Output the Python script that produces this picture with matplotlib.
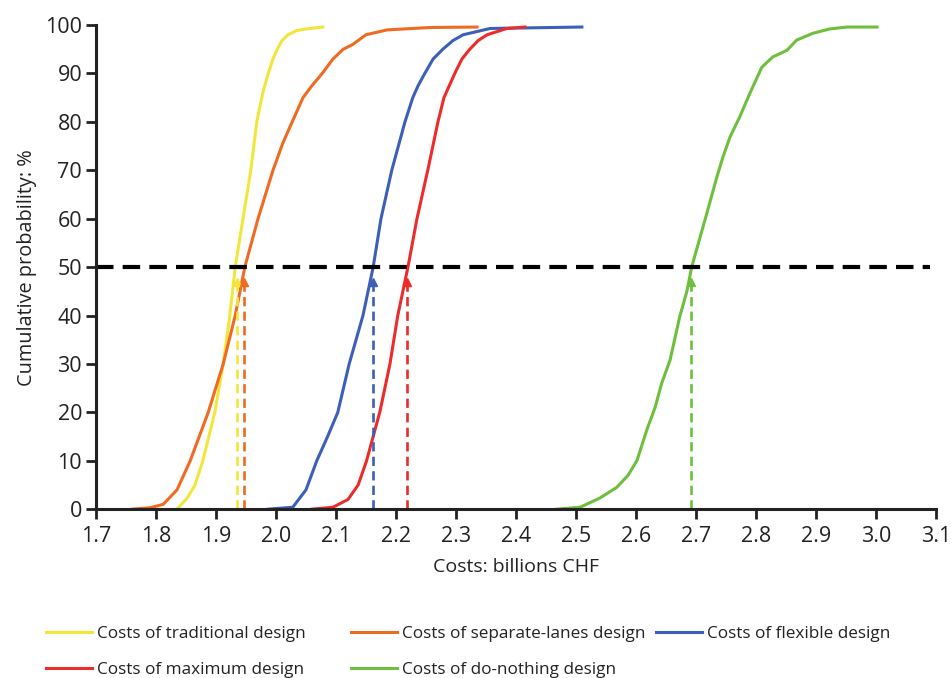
import matplotlib
matplotlib.use("Agg")
import matplotlib.pyplot as plt
import numpy as np

# ---- data ----
trad_x = [1.835, 1.852, 1.865, 1.878, 1.898, 1.912, 1.923, 1.932, 1.945, 1.958, 1.968, 1.978, 1.987, 1.995, 2.002, 2.01, 2.02, 2.035, 2.057, 2.078]
trad_y = [0, 2.3, 5, 10, 20, 30, 40, 50, 60, 70, 80, 86, 90, 93, 95, 96.8, 98, 98.9, 99.3, 99.6]

sep_x = [1.76, 1.79, 1.812, 1.835, 1.857, 1.887, 1.912, 1.932, 1.948, 1.97, 1.995, 2.011, 2.027, 2.045, 2.06, 2.077, 2.095, 2.112, 2.128, 2.15, 2.185, 2.257, 2.335]
sep_y = [0, 0.3, 1, 4, 10, 20, 30, 40, 50, 60, 70, 75.5, 80, 85, 87.5, 90, 93, 95, 96, 98, 99, 99.5, 99.6]

flex_x = [1.987, 2.028, 2.05, 2.068, 2.086, 2.103, 2.122, 2.145, 2.162, 2.175, 2.193, 2.215, 2.228, 2.237, 2.248, 2.262, 2.278, 2.295, 2.312, 2.357, 2.51]
flex_y = [0, 0.4, 4, 10, 15, 20, 30, 40, 50, 60, 70, 80, 85, 87.5, 90, 93, 95, 96.8, 98, 99.3, 99.6]

max_x = [2.06, 2.095, 2.12, 2.137, 2.151, 2.173, 2.19, 2.203, 2.22, 2.235, 2.253, 2.27, 2.28, 2.298, 2.31, 2.323, 2.337, 2.352, 2.385, 2.415]
max_y = [0, 0.4, 2, 5, 10, 20, 30, 40, 50, 60, 70, 80, 85, 90, 93, 95, 96.8, 98, 99.3, 99.6]

none_x = [2.468, 2.507, 2.54, 2.568, 2.587, 2.602, 2.618, 2.632, 2.643, 2.657, 2.673, 2.685, 2.693, 2.718, 2.735, 2.745, 2.757, 2.773, 2.79, 2.81, 2.828, 2.852, 2.868, 2.895, 2.923, 2.952, 3.002]
none_y = [0, 0.4, 2.3, 4.5, 7, 10.1, 16.3, 21, 26, 30.8, 39.7, 45, 50, 61, 68.6, 72.7, 76.9, 81, 85.9, 91.3, 93.4, 94.8, 96.9, 98.3, 99.2, 99.6, 99.6]

medians = [1.935, 1.947, 2.162, 2.218, 2.692]
labels = ["Costs of traditional design", "Costs of separate-lanes design",
          "Costs of flexible design", "Costs of maximum design",
          "Costs of do-nothing design"]
colors = ["#f3e63a", "#f06a22", "#3c5fb8", "#ee2b2b", "#6dbf3c"]

xticks = [1.7, 1.8, 1.9, 2.0, 2.1, 2.2, 2.3, 2.4, 2.5, 2.6, 2.7, 2.8, 2.9, 3.0, 3.1]
yticks = [0, 10, 20, 30, 40, 50, 60, 70, 80, 90, 100]

plt.rcParams['font.family'] = ['Open Sans', 'DejaVu Sans']

fig = plt.figure(figsize=(9.51, 6.78), dpi=100)
ax = fig.add_axes([0.101, 0.249, 0.883, 0.714])

series = [(trad_x, trad_y), (sep_x, sep_y), (flex_x, flex_y), (max_x, max_y), (none_x, none_y)]
lines = []
for (xs, ys), c, lab in zip(series, colors, labels):
    ln, = ax.plot(xs, ys, color=c, lw=2.2, label=lab, solid_joinstyle='round')
    lines.append(ln)

for m, c in zip(medians, colors):
    ax.plot([m, m], [0, 46], color=c, lw=1.9, dashes=(3.5, 2.0))
    ax.plot([m], [47], marker='^', color=c, markersize=6, linestyle='none')

ax.plot([1.7, 3.09], [50, 50], color='black', lw=3.0, dashes=(4.2, 2.2))

ax.set_xlim(1.7, 3.1)
ax.set_ylim(0, 100)
ax.set_xticks(xticks)
ax.set_xticklabels([f"{t:.1f}" for t in xticks])
ax.set_yticks(yticks)
ax.set_yticklabels([str(t) for t in yticks])
for s in ['top', 'right']:
    ax.spines[s].set_visible(False)
for s in ['left', 'bottom']:
    ax.spines[s].set_linewidth(2.2)
    ax.spines[s].set_color('#222222')
ax.tick_params(axis='both', length=7, width=2.0, color='#222222',
               labelsize=15.5, labelcolor='#222222', pad=3)
ax.tick_params(axis='x', pad=5)
ax.set_xlabel("Costs: billions CHF", fontsize=14, color='#222222', labelpad=8)
ax.set_ylabel("Cumulative probability: %", fontsize=14.3, color='#222222', labelpad=6)

# legend entries placed individually
pos = [(0.048, 0.053), (0.369, 0.053), (0.69, 0.053), (0.048, 0.0), (0.369, 0.0)]
for ln, (px, py) in zip(lines, pos):
    lg = fig.legend(handles=[ln], loc='lower left', bbox_to_anchor=(px, py),
                    frameon=False, fontsize=12.3, handlelength=2.7, handletextpad=0.3,
                    borderpad=0, borderaxespad=0)
    for t in lg.get_texts():
        t.set_color('#222222')

fig.savefig("out.png", dpi=100)
